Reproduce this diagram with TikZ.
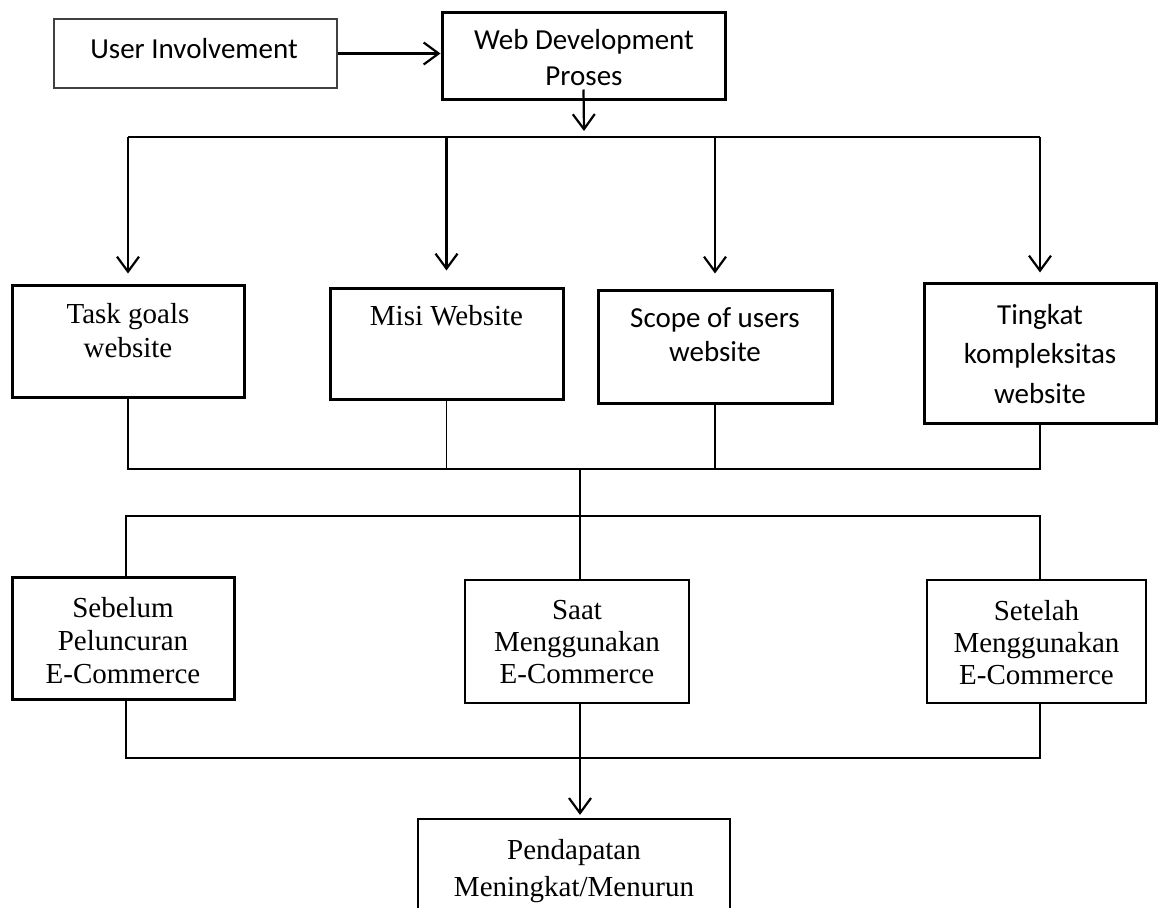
\documentclass[tikz,border=0pt]{standalone}
\usepackage{fontspec}
\setmainfont{Liberation Serif}
\newfontfamily\calibri{Carlito}
\usepackage{tikz}
\usetikzlibrary{arrows.meta}
\tikzstyle{blk}=[draw, line width=3pt, inner sep=0pt]% thick frame
\tikzstyle{blkthin}=[draw, line width=2.2pt, inner sep=0pt]
\tikzstyle{stxt}=[font={\calibri\fontsize{29}{36}\selectfont}, align=center, inner sep=0pt]
\tikzstyle{rtxt}=[font={\fontsize{29}{34}\selectfont}, align=center, inner sep=0pt]
\tikzstyle{arr}=[-{Straight Barb[length=15pt,width=22pt]}, line width=2.2pt]
\tikzstyle{ln}=[line width=1.8pt]
\begin{document}
\begin{tikzpicture}[x=1pt,y=-1pt]
\clip (0,0) rectangle (1160,908);
\useasboundingbox (0,0) rectangle (1160,908);
% top row
\node[draw=black!75, line width=1.3pt, minimum width=283pt, minimum height=69pt] (user) at (195.5,53.5) {};
\node[stxt, anchor=base] (user-t) at (194,58) {User Involvement};
\node[blk, minimum width=283pt, minimum height=87pt] (web) at (583.5,55.5) {};
\node[stxt, anchor=north] (web-t) at (584,29) {Web Development\\Proses};
% second row
\node[blk, minimum width=232pt, minimum height=112pt] (task) at (128,341) {};
\node[rtxt, anchor=north] (task-t) at (128,303) {Task goals\\website};
\node[blk, minimum width=233pt, minimum height=111pt] (misi) at (446.5,343.5) {};
\node[rtxt, anchor=base] (misi-t) at (446.5,325) {Misi Website};
\node[blk, minimum width=234pt, minimum height=113pt] (scope) at (715,346.5) {};
\node[stxt, anchor=north, font={\calibri\fontsize{29}{34}\selectfont}] (scope-t) at (715,307) {Scope of users\\website};
\node[blk, minimum width=232pt, minimum height=140pt] (tingkat) at (1040,353) {};
\node[stxt, anchor=north, font={\calibri\fontsize{29}{39.5}\selectfont}] (tingkat-t) at (1040,304) {Tingkat\\kompleksitas\\website};
% third row
\node[blk, minimum width=222pt, minimum height=122pt] (sebelum) at (123,638) {};
\node[rtxt, anchor=north, font={\fontsize{29}{33}\selectfont}] (sebelum-t) at (123,597) {Sebelum\\Peluncuran\\E-Commerce};
\node[blkthin, minimum width=224pt, minimum height=123pt] (saat) at (577,641.5) {};
\node[rtxt, anchor=north, font={\fontsize{29}{32}\selectfont}] (saat-t) at (577,600) {Saat\\Menggunakan\\E-Commerce};
\node[blkthin, minimum width=219pt, minimum height=123pt] (setelah) at (1036.5,641.5) {};
\node[rtxt, anchor=north, font={\fontsize{29}{32}\selectfont}] (setelah-t) at (1036.5,600) {Setelah\\Menggunakan\\E-Commerce};
% result
\node[blkthin, minimum width=312pt, minimum height=111pt] (hasil) at (574,874.5) {};
\node[rtxt, anchor=north, font={\fontsize{29}{37}\selectfont}] (hasil-t) at (574,839) {Pendapatan\\Meningkat/Menurun};
% bus levels
\coordinate (bus1) at (584,137);
\coordinate (bus2) at (580,469);
\coordinate (bus3) at (580,516);
\coordinate (bus4) at (580,758);
% arrows from the top
\draw[arr] (user.east) -- (user.east -| web.west);
\draw[arr] ([yshift=11pt]web.south) -- ([yshift=6pt]bus1);
\draw[arr, -] (task.north |- bus1) -- (tingkat.north |- bus1);
\draw[arr, shorten >=10pt] (task.north |- bus1) -- (task.north);
\draw[arr, shorten >=16pt] (misi.north |- bus1) -- (misi.north);
\draw[arr, shorten >=15pt] (scope.north |- bus1) -- (scope.north);
\draw[arr, shorten >=9pt] (tingkat.north |- bus1) -- (tingkat.north);
% joining the second row
\draw[ln] (task.south) -- (task.south |- bus2) -- (tingkat.south |- bus2) -- (tingkat.south);
\draw[ln] (misi.south) -- (misi.south |- bus2);
\draw[ln] (scope.south) -- (scope.south |- bus2);
\draw[ln] (bus2) -- (bus2 |- saat.north);
\draw[ln] ([xshift=3pt]sebelum.north) -- ([xshift=3pt]sebelum.north |- bus3) -- ([xshift=3.5pt]setelah.north |- bus3) -- ([xshift=3.5pt]setelah.north);
% joining the third row
\draw[ln] ([xshift=3pt]sebelum.south) -- ([xshift=3pt]sebelum.south |- bus4) -- ([xshift=3.5pt]setelah.south |- bus4) -- ([xshift=3.5pt]setelah.south);
\draw[arr, shorten >=3pt] ([xshift=3pt]saat.south) -- ([xshift=3pt]saat.south |- hasil.north);
\end{tikzpicture}
\end{document}
